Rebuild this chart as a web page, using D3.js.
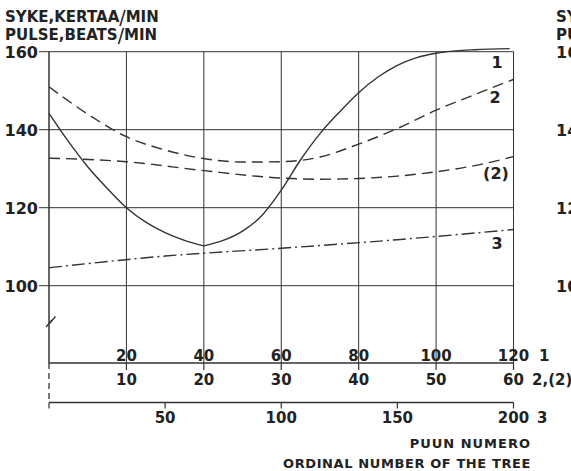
<!DOCTYPE html>
<html>
<head>
<meta charset="utf-8">
<script src="https://cdn.jsdelivr.net/npm/d3@7.9.0/dist/d3.min.js"></script>
<style>
  html, body { margin: 0; padding: 0; background: #fff; }
  svg { display: block; }
  text { font-family: "DejaVu Sans", sans-serif; font-weight: bold; fill: #222; }
</style>
</head>
<body>
<div id="chart"></div>
<script>
// curve 1: tree number 0..120 (axis 1), pulse in beats/min
const curve1 = [
  [0, 144.2], [5, 137], [10, 130.5], [15, 125], [20, 120], [25, 116.3], [30, 113.6],
  [35, 111.6], [40, 110.2], [45, 111.6], [50, 114], [55, 118], [60, 124.5], [65, 132.3],
  [70, 139], [75, 144.5], [80, 149.5], [85, 153.5], [90, 156.5], [95, 158.5], [100, 159.6],
  [105, 160.2], [110, 160.5], [119, 160.8]
];
// curve 2 and (2): tree number 0..60 (axis 2)
const curve2 = [
  [0, 151], [5, 144], [10, 138.2], [15, 134.8], [20, 132.6], [25, 131.7], [30, 131.8],
  [35, 133], [40, 136.3], [45, 140.3], [50, 145], [55, 149], [60, 152.9]
];
const curve2b = [
  [0, 132.7], [10, 131.8], [20, 129.5], [30, 127.6], [35, 127.3], [40, 127.5],
  [45, 128.1], [50, 129.2], [55, 130.8], [60, 133.1]
];
// curve 3: tree number 0..200 (axis 3)
const curve3 = [[0, 104.6], [50, 107.6], [100, 109.6], [150, 111.8], [200, 114.4]];

const yTicks = [100, 120, 140, 160];
const ticks1 = [20, 40, 60, 80, 100, 120];
const ticks2 = [10, 20, 30, 40, 50, 60];
const ticks3 = [50, 100, 150, 200];

const width = 571, height = 471;
const left = 49, right = 513.5;
const axisY = 363, axis3Y = 402.5;

const svg = d3.select("#chart").append("svg")
  .attr("width", width).attr("height", height);

const x1 = d3.scaleLinear().domain([0, 120]).range([left, right]);
const x2 = d3.scaleLinear().domain([0, 60]).range([left, right]);
const x3 = d3.scaleLinear().domain([0, 200]).range([left, right]);
const y = d3.scaleLinear().domain([100, 160]).range([285.7, 51.7]);

const ink = "#333";

// grid
svg.append("g").selectAll("line").data(yTicks).join("line")
  .attr("x1", left - 10).attr("x2", right)
  .attr("y1", d => y(d)).attr("y2", d => y(d))
  .attr("stroke", ink).attr("stroke-width", 1);
svg.append("g").selectAll("line").data(ticks1).join("line")
  .attr("x1", d => x1(d)).attr("x2", d => x1(d))
  .attr("y1", y(160)).attr("y2", axisY)
  .attr("stroke", ink).attr("stroke-width", 1);

// y axis with break
svg.append("line").attr("x1", left).attr("x2", left)
  .attr("y1", y(160)).attr("y2", axisY)
  .attr("stroke", ink).attr("stroke-width", 1.5);
[0, 3.5].forEach(o => {
  svg.append("line")
    .attr("x1", left - 3 + o).attr("y1", 327 - o)
    .attr("x2", left + 3 + o).attr("y2", 320 - o)
    .attr("stroke", ink).attr("stroke-width", 1.3);
});
svg.append("g").selectAll("text").data(yTicks).join("text")
  .attr("x", 38).attr("y", d => y(d) + 6.5)
  .attr("text-anchor", "end").attr("font-size", 16)
  .text(d => d);

// y title
const title = svg.append("g");
[["SYKE,KERTAA", "MIN", 22], ["PULSE,BEATS", "MIN", 40]].forEach(([a, b, yy]) => {
  const t = title.append("text").attr("x", 5).attr("y", yy).attr("font-size", 15);
  t.append("tspan").text(a);
  t.append("tspan").attr("font-weight", "normal").attr("font-size", 19).attr("dy", 1.5).text("/");
  t.append("tspan").attr("dy", -1.5).text(b);
});

// bottom axis 1 / 2
svg.append("line").attr("x1", left).attr("x2", right)
  .attr("y1", axisY).attr("y2", axisY).attr("stroke", ink).attr("stroke-width", 1.5);
svg.append("g").selectAll("line").data(ticks2).join("line")
  .attr("x1", d => x2(d)).attr("x2", d => x2(d))
  .attr("y1", axisY).attr("y2", axisY + 7).attr("stroke", ink).attr("stroke-width", 1.2);
svg.append("g").selectAll("text").data(ticks1).join("text")
  .attr("x", d => x1(d)).attr("y", 361)
  .attr("text-anchor", "middle").attr("font-size", 15).text(d => d);
svg.append("g").selectAll("text").data(ticks2).join("text")
  .attr("x", d => x2(d)).attr("y", 384.5)
  .attr("text-anchor", "middle").attr("font-size", 15).text(d => d);
svg.append("text").attr("x", 539).attr("y", 361).attr("font-size", 15).text("1");
svg.append("text").attr("x", 532).attr("y", 384.5).attr("font-size", 15).text("2,(2)");

svg.append("line").attr("x1", left).attr("x2", left)
  .attr("y1", axisY).attr("y2", axis3Y)
  .attr("stroke", ink).attr("stroke-width", 1.3).attr("stroke-dasharray", "6,4");

// bottom axis 3
svg.append("line").attr("x1", left).attr("x2", right)
  .attr("y1", axis3Y).attr("y2", axis3Y).attr("stroke", ink).attr("stroke-width", 1.5);
svg.append("g").selectAll("line").data([0].concat(ticks3)).join("line")
  .attr("x1", d => x3(d)).attr("x2", d => x3(d))
  .attr("y1", axis3Y).attr("y2", axis3Y + 6).attr("stroke", ink).attr("stroke-width", 1.2);
svg.append("g").selectAll("text").data(ticks3).join("text")
  .attr("x", d => x3(d)).attr("y", 423)
  .attr("text-anchor", "middle").attr("font-size", 15).text(d => d);
svg.append("text").attr("x", 537).attr("y", 423).attr("font-size", 15).text("3");

svg.append("text").attr("x", 531).attr("y", 448).attr("text-anchor", "end")
  .attr("font-size", 13).attr("letter-spacing", 1).text("PUUN NUMERO");
svg.append("text").attr("x", 531).attr("y", 467.5).attr("text-anchor", "end")
  .attr("font-size", 13).attr("letter-spacing", 0.6).text("ORDINAL NUMBER OF THE TREE");

// curves
const line1 = d3.line().x(d => x1(d[0])).y(d => y(d[1])).curve(d3.curveMonotoneX);
const minIdx = d3.minIndex(curve1, d => d[1]);
[curve1.slice(0, minIdx + 1), curve1.slice(minIdx)].forEach(seg => {
  svg.append("path").attr("d", line1(seg))
    .attr("fill", "none").attr("stroke", ink).attr("stroke-width", 1.4);
});
const line2 = d3.line().x(d => x2(d[0])).y(d => y(d[1])).curve(d3.curveMonotoneX);
[curve2, curve2b].forEach(c => {
  svg.append("path").attr("d", line2(c))
    .attr("fill", "none").attr("stroke", ink).attr("stroke-width", 1.4)
    .attr("stroke-dasharray", "11,6");
});
const line3 = d3.line().x(d => x3(d[0])).y(d => y(d[1])).curve(d3.curveMonotoneX);
svg.append("path").attr("d", line3(curve3))
  .attr("fill", "none").attr("stroke", ink).attr("stroke-width", 1.4)
  .attr("stroke-dasharray", "13,4,2,4");

// curve labels
[["1", 497, 68], ["2", 495, 103], ["(2)", 496, 179], ["3", 497, 249]].forEach(([t, xx, yy]) => {
  svg.append("text").attr("x", xx).attr("y", yy).attr("text-anchor", "middle")
    .attr("font-size", 16).text(t);
});

// edge of the neighbouring figure
const edge = svg.append("g");
edge.append("text").attr("x", 556).attr("y", 22).attr("font-size", 15).text("SYKE");
edge.append("text").attr("x", 556).attr("y", 40).attr("font-size", 15).text("PULSE");
edge.selectAll("text.n").data(yTicks).join("text").attr("class", "n")
  .attr("x", 556).attr("y", d => y(d) + 6.5).attr("font-size", 16).text(d => d);
</script>
</body>
</html>
